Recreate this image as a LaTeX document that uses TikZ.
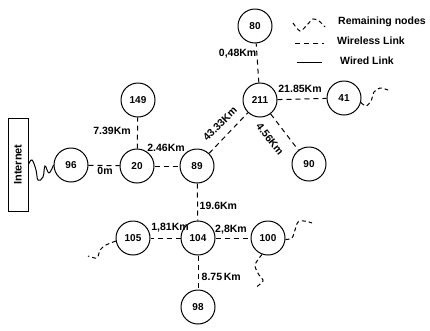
\documentclass[tikz,border=0pt]{standalone}
\usepackage{fontspec}
\setmainfont{Liberation Sans}
\begin{document}
\begin{tikzpicture}[x=1pt,y=-1pt,
  site/.style={circle, draw, line width=1pt, minimum size=34pt, inner sep=0pt,
               font=\bfseries\fontsize{10}{11}\selectfont},
  wireless/.style={line width=1pt, dash pattern=on 5pt off 4pt},
  wired/.style={line width=1pt},
  remain/.style={line width=1pt, dash pattern=on 4pt off 3pt},
  dist/.style={font=\bfseries\fontsize{10.5}{12}\selectfont, inner sep=0.5pt},
  legendtext/.style={font=\bfseries\fontsize{10.5}{12}\selectfont, inner sep=0pt, anchor=west}
]
\useasboundingbox (0,0) rectangle (430,330);

% gateway box
\node[draw, line width=1pt, minimum width=20pt, minimum height=93pt, inner sep=0pt] (inet) at (18,164.5) {};
\node[rotate=90, font=\bfseries\fontsize{11}{12}\selectfont] (inetlabel) at (inet.center) {Internet};

% mesh nodes
\node[site] (n96)  at (71,165)  {96};
\node[site] (n20)  at (137,166) {20};
\node[site] (n149) at (138,100) {149};
\node[site] (n89)  at (197,166) {89};
\node[site] (n211) at (260,100) {211};
\node[site] (n80)  at (255,26)  {80};
\node[site] (n41)  at (344,98)  {41};
\node[site] (n90)  at (309,164) {90};
\node[site] (n105) at (133,238) {105};
\node[site] (n104) at (198,238) {104};
\node[site] (n100) at (268,238) {100};
\node[site] (n98)  at (198,307) {98};

% wired uplink to the Internet
\draw[wired] plot[smooth, tension=0.7] coordinates
  {(inet.east) (32,160) (36,170) (38,180) (43,177) (45,166) (49,173) (n96.west)};

% wireless links
\draw[wireless] (n96) -- (n20);
\draw[wireless] (n20) -- (n149);
\draw[wireless] (n20) -- (n89);
\draw[wireless] (n89) -- (n211);
\draw[wireless] (n89) -- (n104);
\draw[wireless] (n211) -- (n80);
\draw[wireless] (n211) -- (n41);
\draw[wireless] (n211) -- (n90);
\draw[wireless] (n104) -- (n105);
\draw[wireless] (n104) -- (n100);
\draw[wireless] (n104) -- (n98);

% links towards the remaining nodes
\draw[remain] plot[smooth] coordinates {(n41.-15) (366,106) (371,101) (374,92) (380,88) (388,90)};
\draw[remain] plot[smooth] coordinates {(n100.-5) (292,238) (295,230) (298,222) (305,221) (312,223)};
\draw[remain] plot[smooth] coordinates {(n100.-110) (255,265) (259,275) (263,281) (255,288)};
\draw[remain] plot[smooth] coordinates {(n105.190) (106,245) (100,250) (97,258) (88,256)};

% distances
\node[dist] (d0)   at (105,171) {0m};
\node[dist] (d739) at (112,131) {7.39Km};
\node[dist] (d246) at (166,148) {2.46Km};
\node[dist, rotate=45] (d4333) at (220,124) {43.33Km};
\node[dist, anchor=east] (d048) at (257,54) {0,48Km};
\node[dist] (d2185) at (300,89) {21.85Km};
\node[dist, rotate=-52] (d456) at (270,139) {4.56Km};
\node[dist, anchor=west] (d196) at (199,206) {19.6Km};
\node[dist] (d181) at (170,228) {1,81Km};
\node[dist] (d28)  at (231,230) {2,8Km};
\node[dist, anchor=west] (d875) at (201,277) {8.75\,Km};

% legend
\draw[remain] plot[smooth] coordinates {(293,23) (300,31) (307,25) (313,19) (319,21) (325,27)};
\node[legendtext] (lg1) at (338,22) {Remaining nodes};
\draw[wireless] (295,43) -- (324,43);
\node[legendtext] (lg2) at (337,41) {Wireless Link};
\draw[wired] (297,62) -- (322,62);
\node[legendtext] (lg3) at (340,61) {Wired Link};
\end{tikzpicture}
\end{document}
